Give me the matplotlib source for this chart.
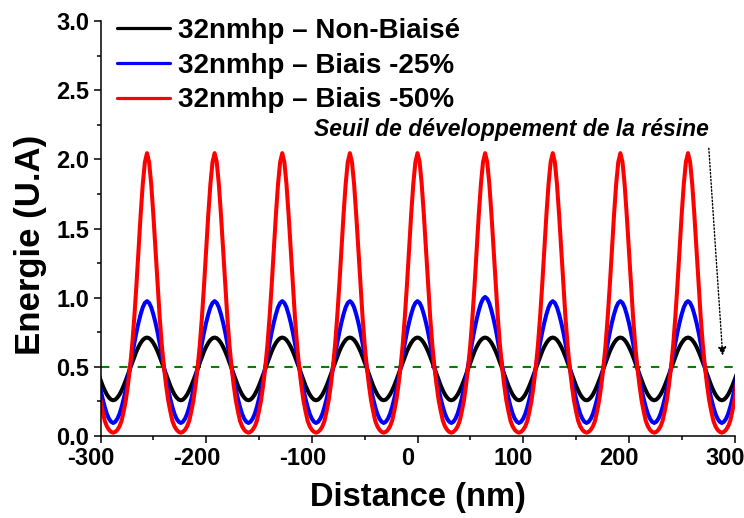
import numpy as np
import matplotlib
matplotlib.use('Agg')
import matplotlib.pyplot as plt
import matplotlib.transforms as mtransforms
from matplotlib.ticker import MultipleLocator, FormatStrFormatter

# distance from a peak (nm) at which the half-period profiles were read
offsets = [0, 2, 4, 6, 8, 10, 12, 14, 16, 18, 20, 22, 24, 26, 28, 30, 32]

# peak centres (nm), the two outer ones only give the tails at the edges
peak_x = [-320, -256, -192, -128, -64, 0, 64, 128, 192, 256, 320]

# half-period profiles (peak -> trough)
black_profile = [0.712, 0.707, 0.694, 0.673, 0.645, 0.612, 0.574, 0.532, 0.489,
                 0.446, 0.404, 0.365, 0.330, 0.300, 0.278, 0.263, 0.258]
blue_profile = [0.975, 0.962, 0.930, 0.880, 0.820, 0.750, 0.670, 0.585, 0.500,
                0.415, 0.340, 0.270, 0.210, 0.160, 0.125, 0.103, 0.094]
red_profile = [2.045, 1.980, 1.820, 1.600, 1.350, 1.090, 0.860, 0.660, 0.500,
               0.370, 0.260, 0.180, 0.110, 0.070, 0.045, 0.030, 0.024]

# peak heights, one per peak
black_peaks = [0.712] * 11
blue_peaks = [0.975, 0.975, 0.975, 0.975, 0.975, 0.975, 1.005, 0.975, 0.975, 0.975, 0.975]
red_peaks = [2.045] * 11

labels = ['32nmhp – Non-Biaisé', '32nmhp – Biais -25%', '32nmhp – Biais -50%']
threshold = 0.5
note = 'Seuil de développement de la résine'


def build_curve(profile, peaks):
    prof = np.array(profile)
    off = np.array(offsets)
    trough = prof[-1]
    xs, ys = [], []
    for p, h in zip(peak_x, peaks):
        half = trough + (prof - trough) * (h - trough) / (prof[0] - trough)
        seg_x = np.concatenate([p - off[::-1], p + off[1:]])
        seg_y = np.concatenate([half[::-1], half[1:]])
        if xs:
            seg_x, seg_y = seg_x[1:], seg_y[1:]
        xs.append(seg_x)
        ys.append(seg_y)
    return np.concatenate(xs), np.concatenate(ys)


plt.rcParams['axes.unicode_minus'] = False
font = ['Liberation Sans', 'DejaVu Sans']

fig = plt.figure(figsize=(7.44, 5.18), dpi=100)
ax = fig.add_axes([100.5 / 744, 82 / 518, 634 / 744, 415 / 518])

ax.axhline(threshold, color='#008000', lw=1.5, dashes=(4, 4.8), zorder=1)

lw = 2.9
for prof, peaks, col, lab in [(black_profile, black_peaks, 'black', labels[0]),
                              (blue_profile, blue_peaks, '#0000ff', labels[1]),
                              (red_profile, red_peaks, '#ff0000', labels[2])]:
    x, y = build_curve(prof, peaks)
    ax.plot(x, y, color=col, lw=lw, label=lab, zorder=2, solid_capstyle='round')

ax.set_xlim(-300, 300)
ax.set_ylim(0, 3.0)
ax.spines['top'].set_visible(False)
ax.spines['right'].set_visible(False)
for s in ['left', 'bottom']:
    ax.spines[s].set_linewidth(1.1)

ax.xaxis.set_major_locator(MultipleLocator(100))
ax.xaxis.set_minor_locator(MultipleLocator(50))
ax.yaxis.set_major_locator(MultipleLocator(0.5))
ax.yaxis.set_minor_locator(MultipleLocator(0.25))
ax.yaxis.set_major_formatter(FormatStrFormatter('%.1f'))
ax.tick_params(which='major', direction='out', length=5, width=1.1, pad=3)
ax.tick_params(which='minor', direction='out', length=3, width=1.1)
shift = mtransforms.ScaledTranslation(-9.5 / 100, 0, fig.dpi_scale_trans)
for t in ax.get_xticklabels():
    t.set_transform(t.get_transform() + shift)
for t in ax.get_xticklabels() + ax.get_yticklabels():
    t.set_family(font)
    t.set_fontweight('bold')
    t.set_fontsize(17)

ax.set_xlabel('Distance (nm)', family=font, fontweight='bold', fontsize=23.5, va='center')
ax.xaxis.set_label_coords(0.5, -0.147)
ax.set_ylabel('Energie (U.A)', family=font, fontweight='bold', fontsize=25, va='center')
ax.yaxis.set_label_coords(-0.111, 0.46)

leg = ax.legend(loc='upper left', bbox_to_anchor=(0.026, 1.008), frameon=False,
                prop={'family': font, 'weight': 'bold', 'size': 20},
                handlelength=1.9, handletextpad=0.3, labelspacing=0.32,
                borderpad=0, borderaxespad=0)
for h in leg.get_lines():
    h.set_linewidth(2.3)

ax.annotate('', xy=(289, 0.562), xytext=(275.5, 2.10),
            arrowprops=dict(arrowstyle='-|>', linestyle=(0, (1, 1.5)), lw=1,
                            color='black', mutation_scale=12))
ax.text(276, 2.17, note, family=font, fontweight='bold', style='italic',
        fontsize=16.5, ha='right', va='baseline')

fig.savefig('out.png', dpi=100)
